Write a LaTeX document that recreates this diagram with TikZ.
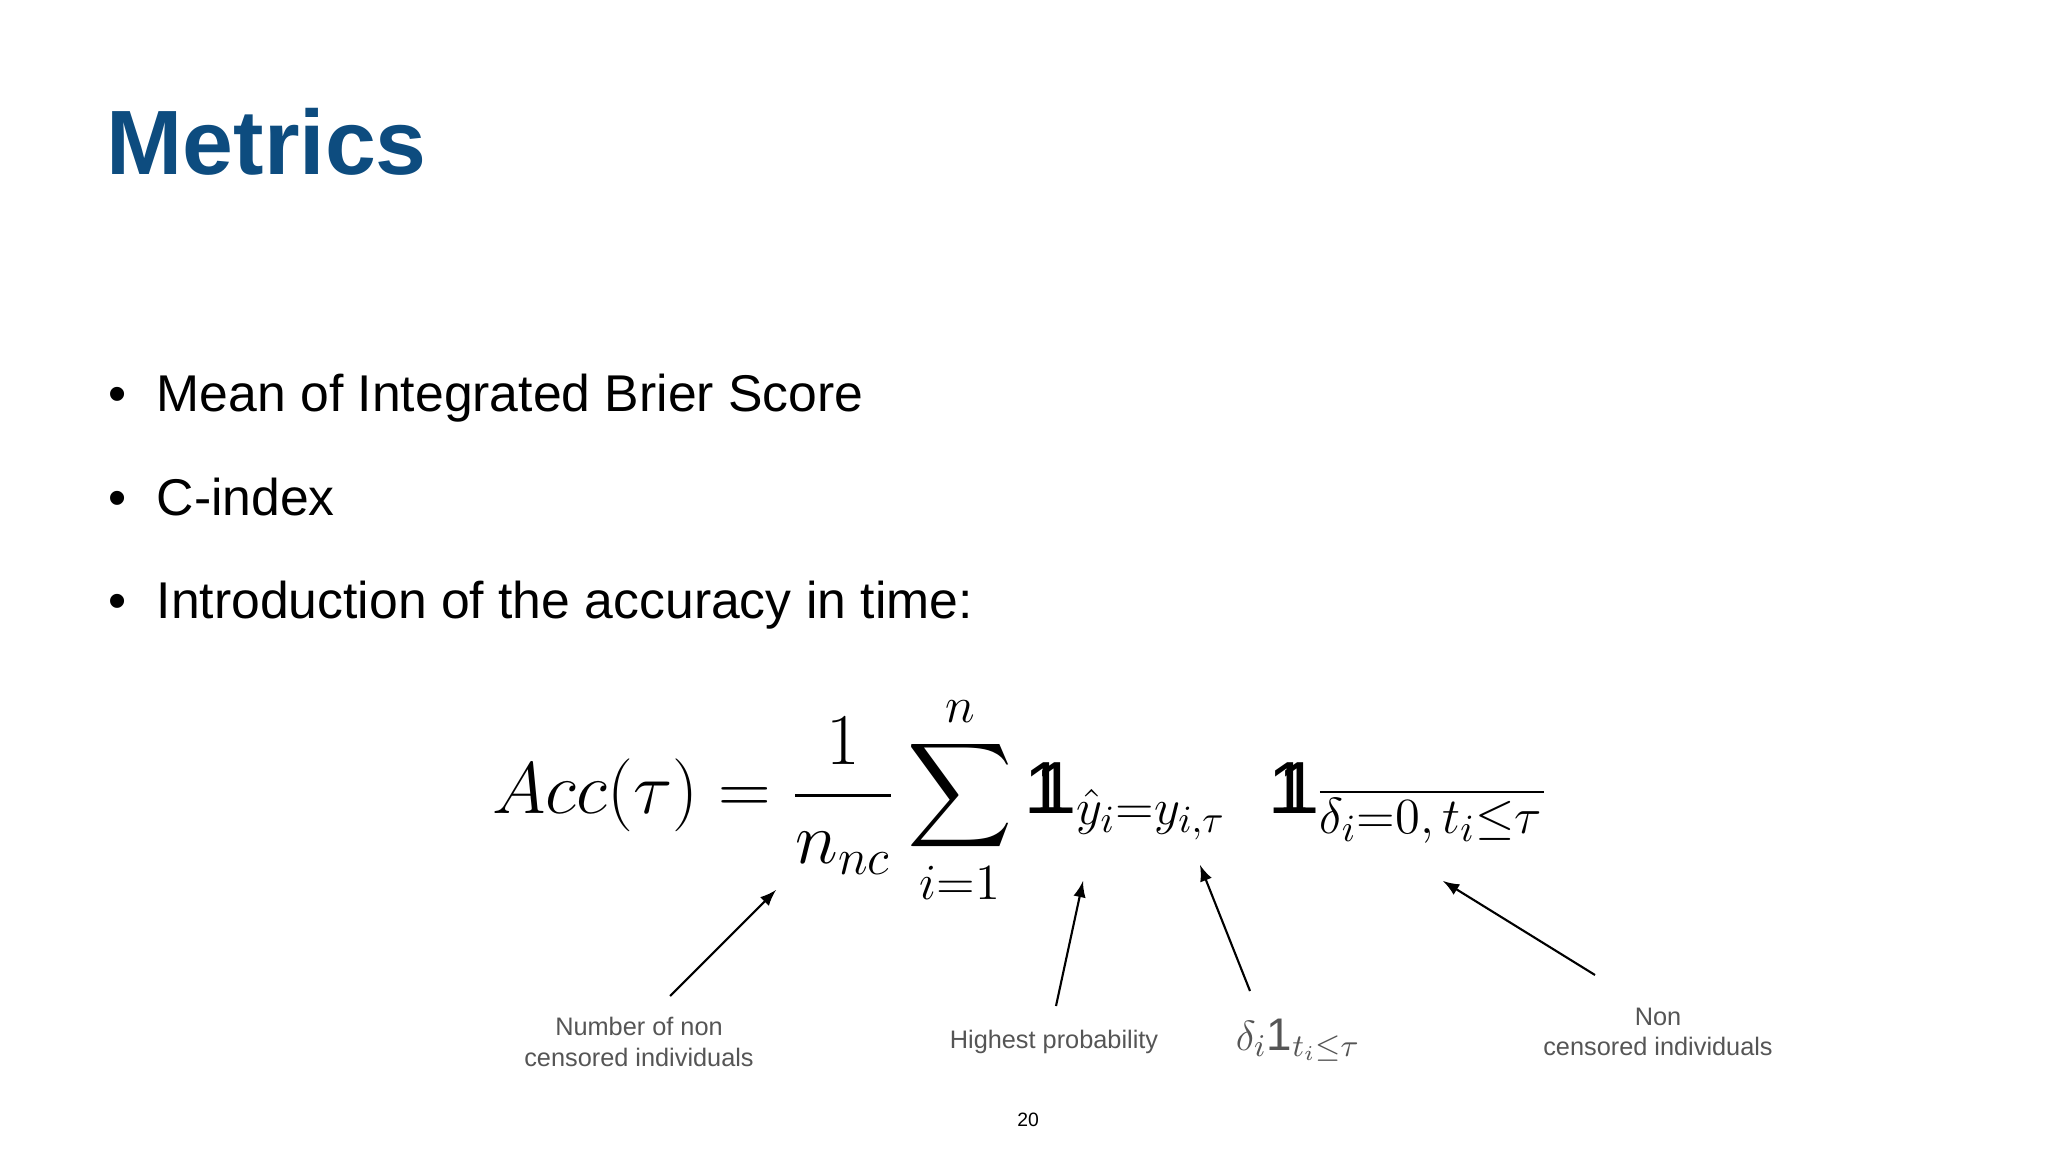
\documentclass[tikz,border=0pt]{standalone}
\usepackage{fontspec}
\setmainfont{Liberation Sans}
\usepackage{amsmath}
\newcommand{\myone}{\mathrm{1}\mkern-7.5mu\mathrm{1}}
\definecolor{titleblue}{HTML}{0D4C7F}
\definecolor{lab}{HTML}{555555}
\tikzset{lbl/.style={text=lab,font=\fontsize{7.2}{8.6}\selectfont,align=center,inner sep=0pt},
 arr/.style={-latex,line width=0.6pt,shorten <=0pt}}
\begin{document}
\begin{tikzpicture}[x=0.01cm,y=-0.01cm]
\useasboundingbox (0,0) rectangle (2048,1152);
\node[anchor=west,inner sep=0pt,text=titleblue,font=\fontsize{26}{30}\bfseries\selectfont] (title) at (106,142) {Metrics};
\foreach \y/\t [count=\i] in {412/Mean of Integrated Brier Score,515/C-index,619/Introduction of the accuracy in time:}{
 \node[anchor=base west,inner sep=0pt,font=\fontsize{14.7}{17}\selectfont] (b\i) at (156,\y) {\t};
 \node[anchor=base,inner sep=0pt,font=\fontsize{14.7}{17}\selectfont] (d\i) at (118,\y) {\textbullet};
}
\node[inner sep=0pt,font=\fontsize{21}{25}\selectfont] (f) at (1018,800)
 {$\displaystyle Acc(\tau) = \frac{1}{n_{nc}} \sum_{i=1}^{n} \myone_{\hat{y}_i = y_{i,\tau}}\ \ \myone_{\overline{\delta_i=0,\,t_i\le\tau}}$};
\node[lbl] (l1) at (639,1042) {Number of non\\censored individuals};
\node[lbl] (l2) at (1054,1042) {Highest probability};
\node[lbl,font=\fontsize{13}{15}\selectfont] (l3) at (1298,1040) {$\delta_i\mathrm{1}_{t_i\le\tau}$};
\node[lbl] (l4) at (1658,1032) {Non\\censored individuals};
\node[font=\fontsize{5.5}{6}\selectfont,inner sep=0pt] (pg) at (1028,1120) {20};
\coordinate (t1) at (776,890); \coordinate (s1) at (670,996);
\coordinate (t2) at (1083,881); \coordinate (s2) at (1056,1006);
\coordinate (t3) at (1200,865); \coordinate (s3) at (1250,991);
\coordinate (t4) at (1443,881); \coordinate (s4) at (1595,975);
\foreach \i in {1,...,4} \draw[arr] (s\i) -- (t\i);
\end{tikzpicture}
\end{document}
